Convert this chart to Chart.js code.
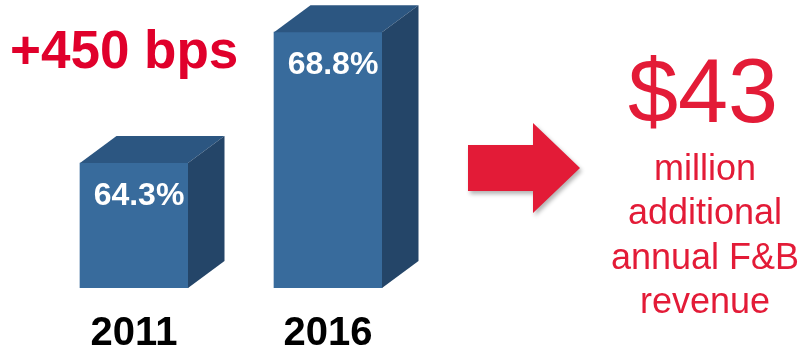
<!DOCTYPE html>
<html>
<head>
<meta charset="utf-8">
<script src="https://cdn.jsdelivr.net/npm/chart.js@4"></script>
<style>
html,body{margin:0;padding:0;background:#fff;}
#wrap{width:804px;height:353px;position:relative;}
</style>
</head>
<body>
<div id="wrap"><canvas id="c" width="804" height="353"></canvas></div>
<script>
const categories = ['2011', '2016'];
const shareValues = [64.3, 68.8];
const valueLabels = ['64.3%', '68.8%'];
const changeLabel = '+450 bps';
const revenueHeadline = '$43';
const revenueLines = ['million', 'additional', 'annual F&B', 'revenue'];

const FONT = '"Liberation Sans", Arial, sans-serif';
const FRONT = '#386b9c';
const TOP = '#2c5681';
const SIDE = '#244568';
const RED_BPS = '#e0002b';
const RED_R = '#e31b37';
const DX = 36.5, DY = -27;

const cube = {
  id: 'cube',
  afterDatasetsDraw(chart) {
    const ctx = chart.ctx;
    const meta = chart.getDatasetMeta(0);
    const yb = chart.scales.y.getPixelForValue(chart.scales.y.min);
    ctx.save();
    meta.data.forEach((bar, i) => {
      const p = bar.getProps(['x', 'y', 'width'], true);
      const x0 = p.x - p.width / 2, x1 = p.x + p.width / 2;
      const yt = p.y;
      ctx.fillStyle = TOP;
      ctx.beginPath();
      ctx.moveTo(x0, yt); ctx.lineTo(x0 + DX, yt + DY); ctx.lineTo(x1 + DX, yt + DY); ctx.lineTo(x1, yt);
      ctx.closePath(); ctx.fill();
      ctx.fillStyle = SIDE;
      ctx.beginPath();
      ctx.moveTo(x1, yt); ctx.lineTo(x1 + DX, yt + DY); ctx.lineTo(x1 + DX, yb + DY); ctx.lineTo(x1, yb);
      ctx.closePath(); ctx.fill();
      ctx.fillStyle = '#ffffff';
      ctx.font = 'bold 32px ' + FONT;
      ctx.textAlign = 'center';
      ctx.textBaseline = 'middle';
      ctx.fillText(valueLabels[i], p.x + 5, yt + 33);
    });
    ctx.restore();
  },
  afterDraw(chart) {
    const ctx = chart.ctx;
    ctx.save();
    ctx.fillStyle = RED_BPS;
    ctx.font = 'bold 53px ' + FONT;
    ctx.textAlign = 'left';
    ctx.textBaseline = 'alphabetic';
    ctx.fillText(changeLabel, 10, 68);
    ctx.shadowColor = 'rgba(0,0,0,0.3)';
    ctx.shadowBlur = 4;
    ctx.shadowOffsetX = 2;
    ctx.shadowOffsetY = 3;
    ctx.fillStyle = RED_R;
    ctx.beginPath();
    ctx.moveTo(468, 145); ctx.lineTo(533, 145); ctx.lineTo(533, 123);
    ctx.lineTo(580, 168); ctx.lineTo(533, 213); ctx.lineTo(533, 191);
    ctx.lineTo(468, 191); ctx.closePath(); ctx.fill();
    ctx.shadowColor = 'transparent';
    ctx.shadowBlur = 0; ctx.shadowOffsetX = 0; ctx.shadowOffsetY = 0;
    ctx.textAlign = 'center';
    ctx.font = '90px ' + FONT;
    ctx.fillText(revenueHeadline, 703, 122);
    ctx.font = '36px ' + FONT;
    const baselines = [180, 224, 269, 313];
    revenueLines.forEach((t, i) => ctx.fillText(t, 705, baselines[i]));
    ctx.restore();
  }
};

new Chart(document.getElementById('c'), {
  type: 'bar',
  data: {
    labels: categories,
    datasets: [{
      data: shareValues,
      backgroundColor: FRONT,
      borderWidth: 0,
      barThickness: 108
    }]
  },
  options: {
    responsive: false,
    animation: false,
    devicePixelRatio: 1,
    layout: { padding: { left: 37, right: 379, top: 6, bottom: 0 } },
    plugins: { legend: { display: false }, tooltip: { enabled: false } },
    scales: {
      y: { display: false, min: 60, max: 69.7 },
      x: {
        grid: { display: false, drawTicks: false },
        border: { display: false },
        ticks: {
          color: '#000',
          font: { family: FONT, size: 40, weight: 'bold' },
          padding: 22
        },
        afterFit(scale) { scale.height = 65; }
      }
    }
  },
  plugins: [cube]
});
</script>
</body>
</html>
